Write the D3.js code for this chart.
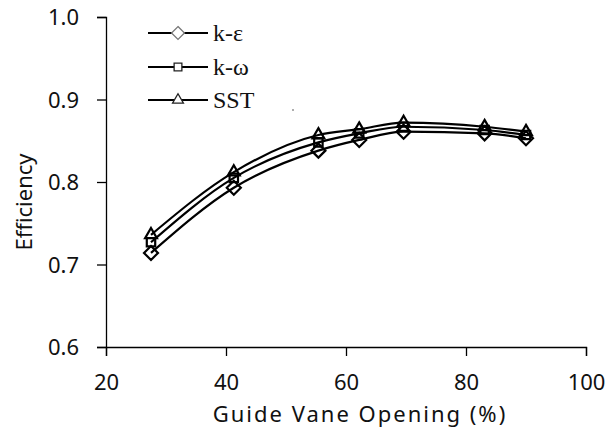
<!DOCTYPE html>
<html>
<head>
<meta charset="utf-8">
<script src="https://cdn.jsdelivr.net/npm/d3@7"></script>
<style>
  html, body { margin: 0; padding: 0; background: #fff; }
  svg { display: block; }
</style>
</head>
<body>
<svg id="chart"></svg>
<script>
// данные
var openings = [27.5, 41.3, 55.4, 62.2, 69.6, 83.1, 90.0];
var kEpsilon = [0.714, 0.793, 0.838, 0.851, 0.861, 0.859, 0.853];
var kOmega   = [0.727, 0.805, 0.848, 0.859, 0.867, 0.863, 0.857];
var sst      = [0.736, 0.812, 0.857, 0.864, 0.872, 0.867, 0.861];
var seriesNames = ["k-\u03b5", "k-\u03c9", "SST"];
var xTicks = [20, 40, 60, 80, 100];
var yTicks = [0.6, 0.7, 0.8, 0.9, 1.0];

var iWidth = 608, iHeight = 431;
var mLeft = 106, mTop = 17, mRight = 586, mBottom = 347;

var svg = d3.select("#chart").attr("width", iWidth).attr("height", iHeight);

var xScale = d3.scaleLinear().domain([20, 100]).range([mLeft, mRight]);
var yScale = d3.scaleLinear().domain([0.6, 1.0]).range([mBottom, mTop]);

// оси
var axisFont = "'Noto Sans', 'Open Sans', sans-serif";

var gx = svg.append("g")
    .attr("transform", "translate(0," + mBottom + ")")
    .call(d3.axisBottom(xScale).tickValues(xTicks).tickSize(9).tickPadding(18).tickFormat(d3.format("d")));
var gy = svg.append("g")
    .attr("transform", "translate(" + mLeft + ",0)")
    .call(d3.axisLeft(yScale).tickValues(yTicks).tickSize(9).tickPadding(18).tickFormat(d3.format(".1f")));

[gx, gy].forEach(function(g) {
    g.select(".domain").attr("stroke", "#000").attr("stroke-width", 1.3);
    g.selectAll(".tick line").attr("stroke", "#000").attr("stroke-width", 1.3);
    g.selectAll(".tick text")
        .attr("fill", "#111")
        .style("font-family", axisFont)
        .style("font-size", "22px");
});
gy.selectAll(".tick text").attr("dy", "0.35em");

svg.append("text")
    .attr("x", 360).attr("y", 422)
    .attr("text-anchor", "middle")
    .style("font-family", axisFont).style("font-size", "22px")
    .style("letter-spacing", "2px")
    .attr("fill", "#111")
    .text("Guide Vane Opening (%)");

svg.append("text")
    .attr("transform", "translate(32,202) rotate(-90)")
    .attr("text-anchor", "middle")
    .style("font-family", axisFont).style("font-size", "22px")
    .attr("fill", "#111")
    .text("Efficiency");

// серии
var series = [
    { name: seriesNames[0], values: kEpsilon, symbol: d3.symbolDiamond2, size: 125 },
    { name: seriesNames[1], values: kOmega,   symbol: d3.symbolSquare2,  size: 90 },
    { name: seriesNames[2], values: sst,      symbol: d3.symbolTriangle2, size: 100 }
];

var line = d3.line()
    .x(function(d, i) { return xScale(openings[i]); })
    .y(function(d) { return yScale(d); })
    .curve(d3.curveMonotoneX);

series.forEach(function(s) {
    svg.append("path")
        .datum(s.values)
        .attr("fill", "none")
        .attr("stroke", "#000")
        .attr("stroke-width", 2.2)
        .attr("d", line);

    svg.append("g").selectAll("path")
        .data(s.values)
        .join("path")
        .attr("transform", function(d, i) { return "translate(" + xScale(openings[i]) + "," + yScale(d) + ")"; })
        .attr("d", d3.symbol(s.symbol, s.size))
        .attr("fill", "none")
        .attr("stroke", "#000")
        .attr("stroke-width", 2.2);
});

// легенда
var legend = svg.append("g");
var legendY = [33, 67, 100];
series.forEach(function(s, i) {
    var g = legend.append("g").attr("transform", "translate(0," + legendY[i] + ")");
    g.append("line")
        .attr("x1", 148).attr("x2", 208)
        .attr("stroke", "#000").attr("stroke-width", 2);
    g.append("path")
        .attr("transform", "translate(178,0)")
        .attr("d", d3.symbol(s.symbol, s.size * 0.85))
        .attr("fill", "#fff")
        .attr("stroke", i === 0 ? "#777" : "#222")
        .attr("stroke-width", 1.3);
    g.append("text")
        .attr("x", 213).attr("y", 8)
        .style("font-family", "'Liberation Serif', 'Times New Roman', serif")
        .style("font-size", "24px")
        .attr("fill", "#111")
        .text(s.name);
});

svg.append("circle").attr("cx", 293).attr("cy", 110).attr("r", 0.8).attr("fill", "#444");
</script>
</body>
</html>
